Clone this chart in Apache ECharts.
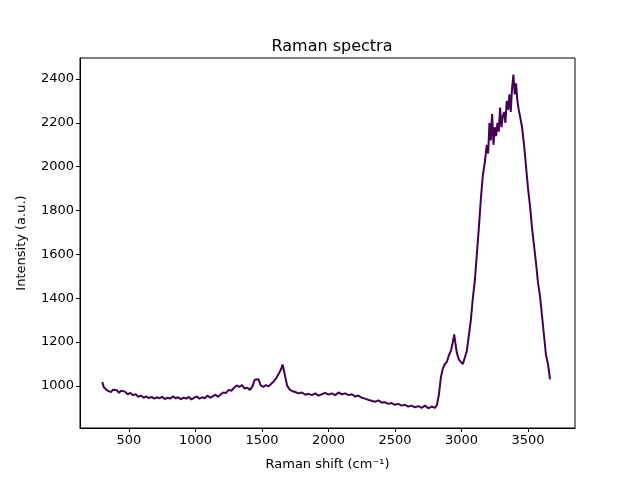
<!DOCTYPE html>
<html>
<head>
<meta charset="utf-8">
<script src="https://cdn.jsdelivr.net/npm/echarts@6/dist/echarts.min.js"></script>
<style>html,body{margin:0;padding:0;background:#fff}#chart{width:640px;height:480px}</style>
</head>
<body>
<div id="chart"></div>
<script>
// Raman shift (cm-1) and intensity
var shifts = [300,310,320,335,350,365,380,395,410,425,440,455,470,490,510,530,550,570,590,610,630,650,670,690,710,730,750,770,790,810,830,850,870,890,910,930,950,970,990,1010,1030,1050,1070,1090,1110,1130,1150,1170,1190,1210,1230,1250,1270,1290,1310,1330,1350,1370,1390,1410,1430,1445,1460,1475,1490,1510,1530,1550,1570,1590,1610,1630,1645,1655,1665,1675,1690,1710,1730,1750,1775,1800,1825,1850,1875,1900,1925,1950,1975,2000,2025,2050,2075,2100,2125,2150,2175,2200,2225,2250,2275,2300,2325,2350,2375,2400,2425,2450,2475,2500,2525,2550,2575,2600,2625,2650,2675,2700,2725,2750,2775,2800,2815,2830,2845,2860,2875,2890,2905,2920,2935,2945,2955,2965,2980,2995,3010,3025,3040,3055,3070,3085,3100,3115,3130,3145,3160,3175,3190,3200,3210,3220,3230,3240,3250,3260,3270,3280,3290,3300,3310,3320,3330,3340,3350,3360,3370,3380,3390,3400,3410,3420,3430,3440,3455,3470,3485,3500,3515,3530,3545,3560,3575,3590,3605,3620,3635,3650,3665,3680];
var intensity = [1018,995,1002,980,986,972,983,975,980,968,978,970,974,962,968,958,962,950,956,946,952,944,950,942,948,944,950,940,946,942,952,944,948,940,946,942,950,938,946,952,942,948,944,956,946,952,960,950,962,970,968,982,978,992,1002,996,1004,988,992,982,1000,1028,1020,1030,1002,996,1004,998,1010,1022,1038,1060,1078,1098,1070,1040,1000,982,976,972,966,970,960,964,958,966,956,962,968,960,966,958,970,962,966,958,962,952,956,946,942,936,932,928,934,924,926,918,922,914,918,910,914,906,910,902,908,900,910,898,906,900,912,960,1040,1080,1100,1110,1140,1160,1200,1235,1190,1150,1120,1110,1100,1130,1160,1230,1300,1400,1480,1600,1720,1850,1960,2020,2100,2060,2200,2120,2240,2100,2180,2140,2200,2160,2270,2180,2230,2250,2200,2300,2260,2330,2250,2360,2420,2330,2380,2300,2260,2230,2180,2100,2000,1900,1820,1720,1640,1560,1470,1410,1320,1230,1140,1100,1030];

var xTicks = [500,1000,1500,2000,2500,3000,3500];
var yTicks = [1000,1200,1400,1600,1800,2000,2200,2400];

var chart = echarts.init(document.getElementById('chart'));
var font = 'DejaVu Sans';
function plain(v) { return String(v); }
chart.setOption({
    animation: false,
    title: {
        text: 'Raman spectra',
        left: 327, top: 34, textAlign: 'center',
        textStyle: {fontFamily: font, fontSize: 16, fontWeight: 'normal', color: '#000'}
    },
    grid: {left: 80, right: 65, top: 58, bottom: 52, show: true, borderColor: '#000', borderWidth: 1},
    xAxis: {
        type: 'value', min: 132, max: 3853,
        name: 'Raman shift (cm⁻¹)', nameLocation: 'middle', nameGap: 30,
        nameTextStyle: {fontFamily: font, fontSize: 13, color: '#000'},
        axisLine: {lineStyle: {color: '#000'}},
        axisTick: {customValues: xTicks, length: 4, lineStyle: {color: '#000'}},
        axisLabel: {customValues: xTicks, formatter: plain, fontFamily: font, fontSize: 13, color: '#000', margin: 6},
        splitLine: {show: false}
    },
    yAxis: {
        type: 'value', min: 808, max: 2496,
        name: 'Intensity (a.u.)', nameLocation: 'middle', nameGap: 52, nameRotate: 90,
        nameTextStyle: {fontFamily: font, fontSize: 13, color: '#000'},
        axisLine: {show: true, lineStyle: {color: '#000'}},
        axisTick: {show: true, customValues: yTicks, length: 4, lineStyle: {color: '#000'}},
        axisLabel: {customValues: yTicks, formatter: plain, fontFamily: font, fontSize: 13, color: '#000', margin: 6},
        splitLine: {show: false}
    },
    series: [{
        type: 'line',
        data: shifts.map(function (s, i) { return [s, intensity[i]]; }),
        showSymbol: false,
        lineStyle: {color: '#440154', width: 2},
        itemStyle: {color: '#440154'}
    }]
});
</script>
</body>
</html>
